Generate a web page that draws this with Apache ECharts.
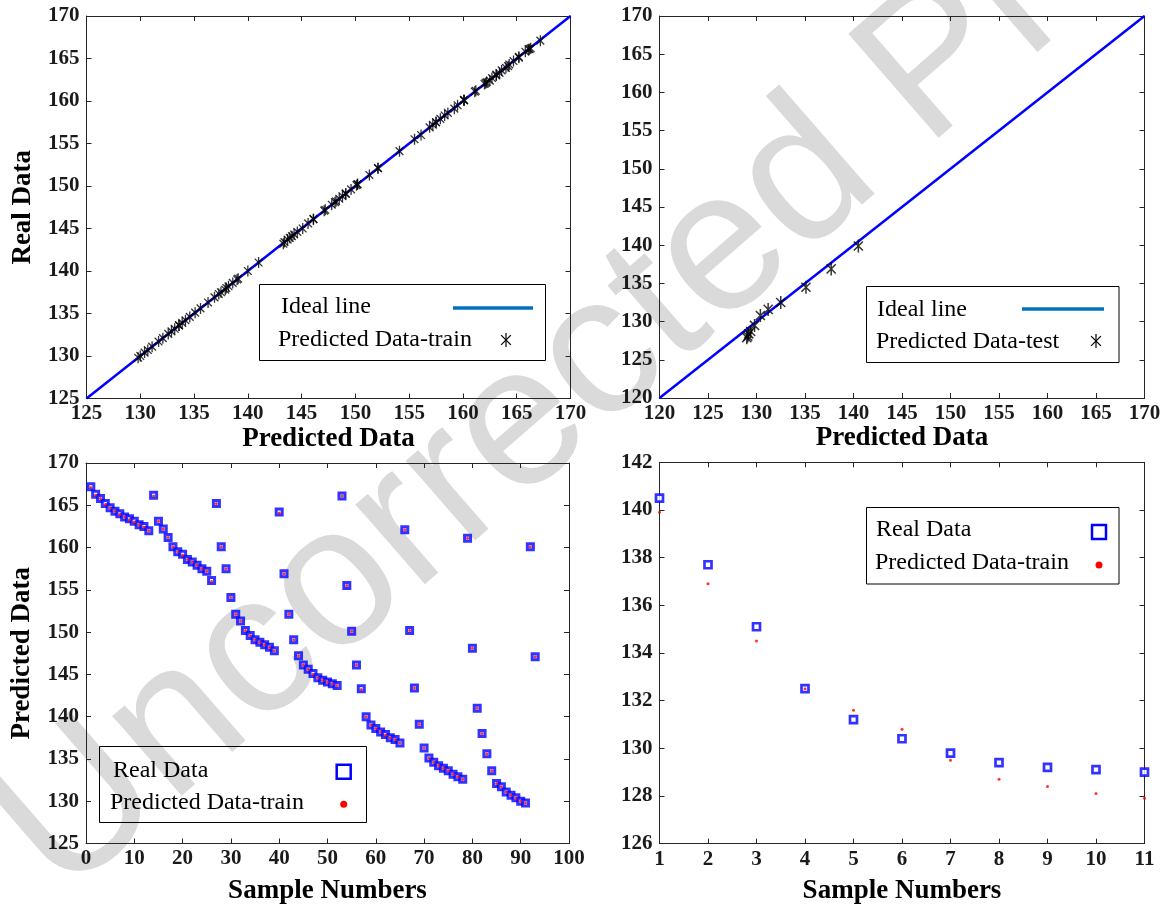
<!DOCTYPE html>
<html><head><meta charset="utf-8">
<script src="https://cdn.jsdelivr.net/npm/echarts@6.0.0/dist/echarts.min.js"></script>
<style>html,body{margin:0;padding:0;background:#fff}#c{width:1171px;height:911px}</style>
</head><body><div id="c"></div>
<script>
// ---- data ----
const trainReal = [167.2,166.3,165.8,165.2,164.7,164.3,164.0,163.6,163.4,163.1,162.7,162.5,162.0,166.2,163.1,162.2,161.2,160.1,159.5,159.2,158.6,158.3,157.9,157.5,157.2,156.1,165.2,160.1,157.5,154.1,152.1,151.3,150.2,149.6,149.1,148.8,148.5,148.2,147.8,164.2,156.9,152.1,149.1,147.2,146.1,145.6,145.1,144.6,144.3,144.1,143.9,143.7,166.1,155.5,150.1,146.1,143.3,140.0,139.0,138.6,138.2,137.9,137.5,137.3,136.9,162.1,150.2,143.4,139.1,136.3,135.1,134.6,134.2,133.9,133.6,133.2,132.9,132.6,161.1,148.1,141.0,138.0,135.6,133.6,132.1,131.7,131.1,130.7,130.4,130.0,129.8,160.1,147.1];
const trainPred = [167.1,166.2,165.8,165.1,164.7,164.3,163.9,163.6,163.3,163.0,162.7,162.4,162.0,166.1,163.1,162.2,161.2,160.1,159.5,159.1,158.6,158.3,157.9,157.5,157.2,156.0,165.2,160.1,157.5,154.1,152.1,151.3,150.2,149.6,149.1,148.8,148.5,148.2,147.8,164.1,156.9,152.1,149.1,147.2,146.1,145.6,145.0,144.6,144.3,144.1,143.9,143.7,166.1,155.5,150.1,146.1,143.2,140.0,139.0,138.6,138.2,137.8,137.5,137.3,136.9,162.1,150.2,143.4,139.1,136.3,135.1,134.6,134.2,133.9,133.6,133.2,132.9,132.6,161.1,148.1,141.0,138.0,135.6,133.6,132.1,131.7,131.1,130.7,130.4,130.0,129.8,160.1,147.1];
const testReal = [140.5,137.7,135.1,132.5,131.2,130.4,129.8,129.4,129.2,129.1,129.0];
const testPred = [139.9,136.9,134.5,132.5,131.6,130.8,129.5,128.7,128.4,128.1,127.9];
const idealTrain = [[125,125],[170,170]];
const idealTest = [[120,120],[170,170]];

// ---- styles ----
const SERIF = 'Liberation Serif';
const AXC = '#262626';
const STAR = 'path://M5 0 L5 10 M1.5 1.5 L8.5 8.5 M1.5 8.5 L8.5 1.5';

const grids = [
  {left:86.5, top:16,  width:484, height:382.5},
  {left:659.5, top:16, width:485, height:382},
  {left:86, top:463,  width:483, height:380.5},
  {left:659.5, top:462.3, width:485, height:381.3}
];

function mkX(gi, min, max, interval, name, nameGap){
  const common = {gridIndex:gi, type:'value', min, max, interval,
    axisLine:{onZero:false, lineStyle:{color:AXC, width:1}},
    axisTick:{inside:true, length:5, lineStyle:{color:AXC}},
    splitLine:{show:false}};
  return [
    Object.assign({}, common, {position:'bottom', name:name||'', nameLocation:'middle', nameGap:nameGap||30,
      nameTextStyle:{fontFamily:SERIF, fontWeight:'bold', fontSize:27, color:'#000'},
      axisLabel:{fontFamily:SERIF, fontWeight:'bold', fontSize:21, color:'#1a1a1a', margin:5}}),
    Object.assign({}, common, {position:'top', axisLabel:{show:false}})
  ];
}
function mkY(gi, min, max, interval, name){
  const common = {gridIndex:gi, type:'value', min, max, interval,
    axisLine:{onZero:false, lineStyle:{color:AXC, width:1}},
    axisTick:{inside:true, length:5, lineStyle:{color:AXC}},
    splitLine:{show:false}};
  return [
    Object.assign({}, common, {position:'left', name:name||'', nameLocation:'middle', nameGap:50,
      nameTextStyle:{fontFamily:SERIF, fontWeight:'bold', fontSize:27, color:'#000'},
      axisLabel:{fontFamily:SERIF, fontWeight:'bold', fontSize:21, color:'#1a1a1a', margin:7}}),
    Object.assign({}, common, {position:'right', axisLabel:{show:false}})
  ];
}

const xAxis = [].concat(
  mkX(0,125,170,5,'Predicted Data',24),
  mkX(1,120,170,5,'Predicted Data',24),
  mkX(2,0,100,10,'Sample Numbers',34),
  mkX(3,1,11,1,'Sample Numbers',34)
);
const yAxis = [].concat(
  mkY(0,125,170,5,'Real Data'),
  mkY(1,120,170,5,''),
  mkY(2,125,170,5,'Predicted Data'),
  mkY(3,126,142,2,'')
);

const series = [
  {type:'line', xAxisIndex:0, yAxisIndex:0, data:idealTrain, showSymbol:false, lineStyle:{color:'#0000ff', width:2.5}, z:2, silent:true},
  {type:'scatter', xAxisIndex:0, yAxisIndex:0, data:trainReal.map((v,i)=>[v, trainPred[i]]), symbol:STAR, symbolKeepAspect:true, symbolSize:11,
    itemStyle:{color:'rgba(0,0,0,0)', borderColor:'#000', borderWidth:1.3}, z:3},
  {type:'line', xAxisIndex:2, yAxisIndex:2, data:idealTest, showSymbol:false, lineStyle:{color:'#0000ff', width:2.5}, z:2, silent:true},
  {type:'scatter', xAxisIndex:2, yAxisIndex:2, data:testReal.map((v,i)=>[v, testPred[i]]), symbol:STAR, symbolKeepAspect:true, symbolSize:13,
    itemStyle:{color:'rgba(0,0,0,0)', borderColor:'#000', borderWidth:1.5}, z:3},
  {type:'scatter', xAxisIndex:4, yAxisIndex:4, data:trainReal.map((v,i)=>[i+1, v]), symbol:'rect', symbolSize:6,
    itemStyle:{color:'#fff', borderColor:'#0000ff', borderWidth:3}, z:3},
  {type:'scatter', xAxisIndex:4, yAxisIndex:4, data:trainPred.map((v,i)=>[i+1, v]), symbol:'circle', symbolSize:3,
    itemStyle:{color:'#ff0000'}, z:4},
  {type:'scatter', xAxisIndex:6, yAxisIndex:6, data:testReal.map((v,i)=>[i+1, v]), symbol:'rect', symbolSize:7,
    itemStyle:{color:'#fff', borderColor:'#0000ff', borderWidth:2.7}, z:3},
  {type:'scatter', xAxisIndex:6, yAxisIndex:6, data:testPred.map((v,i)=>[i+1, v]), symbol:'circle', symbolSize:3,
    itemStyle:{color:'#ff0000'}, z:4}
];

function txt(x,y,t){return {type:'text', x, y, z:50, style:{text:t, fontFamily:SERIF, fontSize:24, fill:'#000', align:'left', verticalAlign:'middle'}};}
function box(x,y,w,h){return {type:'rect', z:40, shape:{x,y,width:w,height:h}, style:{fill:'none', stroke:'#000', lineWidth:1}};}
function star(cx,cy,s){const h=s/2, d=s*0.35; return [
  {type:'line', z:50, shape:{x1:cx,y1:cy-h,x2:cx,y2:cy+h}, style:{stroke:'#000', lineWidth:1.2}},
  {type:'line', z:50, shape:{x1:cx-d,y1:cy-d,x2:cx+d,y2:cy+d}, style:{stroke:'#000', lineWidth:1.2}},
  {type:'line', z:50, shape:{x1:cx-d,y1:cy+d,x2:cx+d,y2:cy-d}, style:{stroke:'#000', lineWidth:1.2}}];}
function lineIcon(x1,x2,y){return {type:'line', z:50, shape:{x1,y1:y,x2,y2:y}, style:{stroke:'#0072bd', lineWidth:3.5}};}
function sq(cx,cy){return {type:'rect', z:50, shape:{x:cx-7,y:cy-7,width:14,height:14}, style:{fill:'none', stroke:'#0000ff', lineWidth:2.5}};}
function dot(cx,cy){return {type:'circle', z:50, shape:{cx,cy,r:3.5}, style:{fill:'#ff0000'}};}

const graphic = [
  {type:'text', x:26, y:858, rotation:0.7156, z:-100, silent:true,
    style:{text:'Uncorrected Proof', fontFamily:'Liberation Sans', fontSize:200, fill:'#dadada', align:'left', verticalAlign:'middle'}},
  box(259.5,284.5,286,76), txt(281,307,'Ideal line'), txt(278,340,'Predicted Data-train'), lineIcon(453,533,308), ...star(506,340,14),
  box(866.5,286.5,252.5,76), txt(877,310,'Ideal line'), txt(876,342,'Predicted Data-test'), lineIcon(1022,1104,309), ...star(1096,341,14),
  box(99.5,746.5,267,76), txt(113,771,'Real Data'), txt(110,803,'Predicted Data-train'), sq(343.7,771.7), dot(343.7,804.3),
  box(866.5,507.5,252.5,76.5), txt(876,530,'Real Data'), txt(875,563,'Predicted Data-train'), sq(1099,532), dot(1099,565)
];

const chart = echarts.init(document.getElementById('c'), null, {renderer:'canvas'});
chart.setOption({animation:false, backgroundColor:'#fff', grid:grids, xAxis, yAxis, series, graphic});
</script>
</body></html>
